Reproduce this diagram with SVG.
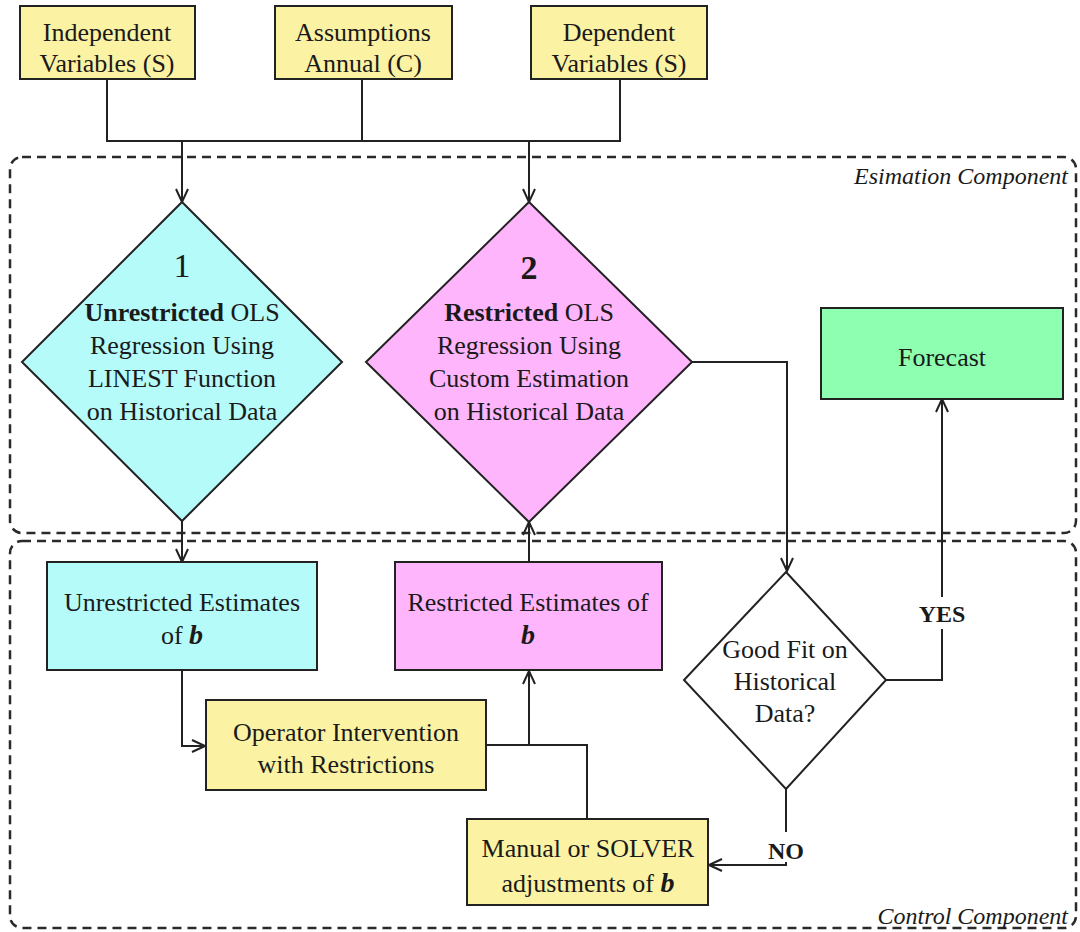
<svg xmlns="http://www.w3.org/2000/svg" width="1080" height="932" viewBox="0 0 1080 932">
<defs>
<style>
.t{font-family:"Liberation Serif","Times New Roman",serif;font-size:26px;fill:#1a1a1a;text-anchor:middle}
.tb{font-weight:bold}
.bi{font-weight:bold;font-style:italic;font-size:28px}
.lbl{font-family:"Liberation Serif","Times New Roman",serif;font-size:24px;font-weight:bold;fill:#1a1a1a;text-anchor:middle}
.cmp{font-family:"Liberation Serif","Times New Roman",serif;font-size:24px;font-style:italic;fill:#1a1a1a;text-anchor:end}
.box{stroke:#222;stroke-width:2}
.yel{fill:#fbf2a4}
.cyan{fill:#b5fbfa}
.pink{fill:#ffb5fc}
.green{fill:#8effb1}
.white{fill:#fff}
.dash{fill:none;stroke:#2a2a2a;stroke-width:2.5;stroke-dasharray:9,6}
.con{fill:none;stroke:#222;stroke-width:2}
</style>
<marker id="arr" markerUnits="userSpaceOnUse" markerWidth="16" markerHeight="14" viewBox="0 0 16 14" refX="14" refY="7" orient="auto">
<path d="M1,1 L14,7 L1,13" fill="none" stroke="#222" stroke-width="2"/>
</marker>
</defs>
<rect width="1080" height="932" fill="#fff"/>

<g id="regions">
<rect class="dash" x="10" y="157" width="1066" height="376" rx="12"/>
<text class="cmp" x="1068" y="184">Esimation Component</text>
<rect class="dash" x="10" y="541" width="1066" height="387" rx="12"/>
<text class="cmp" x="1068" y="924">Control Component</text>
</g>

<g id="connectors">
<path class="con" d="M107,79 V141 H620 V79"/>
<path class="con" d="M362,79 V141"/>
<path class="con" d="M182,141 V202" marker-end="url(#arr)"/>
<path class="con" d="M529,141 V202" marker-end="url(#arr)"/>
<path class="con" d="M182,521 V562" marker-end="url(#arr)"/>
<path class="con" d="M529,562 V522" marker-end="url(#arr)"/>
<path class="con" d="M692,362 H787 V571" marker-end="url(#arr)"/>
<path class="con" d="M885,680 H942 V399" marker-end="url(#arr)"/>
<path class="con" d="M786,789 V865 H709" marker-end="url(#arr)"/>
<path class="con" d="M182,670 V746 H205" marker-end="url(#arr)"/>
<path class="con" d="M486,745 H587 V819"/>
<path class="con" d="M529,745 V671" marker-end="url(#arr)"/>
<rect x="920" y="597" width="44" height="32" fill="#fff"/>
<text class="lbl" x="942" y="622">YES</text>
<rect x="762" y="832" width="48" height="30" fill="#fff"/>
<text class="lbl" x="786" y="859">NO</text>
</g>

<g id="independent">
<rect class="box yel" x="20" y="6" width="175" height="73"/>
<text class="t" x="107" y="41">Independent</text>
<text class="t" x="107" y="72">Variables (S)</text>
</g>
<g id="assumptions">
<rect class="box yel" x="275" y="6" width="177" height="73"/>
<text class="t" x="363" y="41">Assumptions</text>
<text class="t" x="363" y="72">Annual (C)</text>
</g>
<g id="dependent">
<rect class="box yel" x="531" y="6" width="176" height="73"/>
<text class="t" x="619" y="41">Dependent</text>
<text class="t" x="619" y="72">Variables (S)</text>
</g>

<g id="unrestricted-ols">
<polygon class="box cyan" points="182,202 342,362 182,521 22,362"/>
<text class="t" x="182" y="277" style="font-size:34px">1</text>
<text class="t" x="182" y="321"><tspan class="tb">Unrestricted</tspan> OLS</text>
<text class="t" x="182" y="354">Regression Using</text>
<text class="t" x="182" y="387">LINEST Function</text>
<text class="t" x="182" y="420">on Historical Data</text>
</g>

<g id="restricted-ols">
<polygon class="box pink" points="529,202 692,362 529,522 366,362"/>
<text class="t tb" x="529" y="279" style="font-size:34px">2</text>
<text class="t" x="529" y="321"><tspan class="tb">Restricted</tspan> OLS</text>
<text class="t" x="529" y="354">Regression Using</text>
<text class="t" x="529" y="387">Custom Estimation</text>
<text class="t" x="529" y="420">on Historical Data</text>
</g>

<g id="forecast">
<rect class="box green" x="821" y="308" width="242" height="91"/>
<text class="t" x="942" y="366">Forecast</text>
</g>

<g id="good-fit">
<polygon class="box white" points="786,572 886,680 786,789 684,680"/>
<text class="t" x="785" y="658">Good Fit on</text>
<text class="t" x="785" y="690">Historical</text>
<text class="t" x="785" y="722">Data?</text>
</g>

<g id="unrestricted-estimates">
<rect class="box cyan" x="47" y="562" width="270" height="108"/>
<text class="t" x="182" y="611">Unrestricted Estimates</text>
<text class="t" x="182" y="644">of <tspan class="bi">b</tspan></text>
</g>

<g id="restricted-estimates">
<rect class="box pink" x="395" y="562" width="267" height="108"/>
<text class="t" x="528" y="611">Restricted Estimates of</text>
<text class="t" x="528" y="644"><tspan class="bi">b</tspan></text>
</g>

<g id="operator">
<rect class="box yel" x="206" y="700" width="280" height="90"/>
<text class="t" x="346" y="741">Operator Intervention</text>
<text class="t" x="346" y="773">with Restrictions</text>
</g>

<g id="manual">
<rect class="box yel" x="467" y="819" width="241" height="86"/>
<text class="t" x="588" y="857">Manual or SOLVER</text>
<text class="t" x="588" y="892">adjustments of <tspan class="bi">b</tspan></text>
</g>
</svg>
